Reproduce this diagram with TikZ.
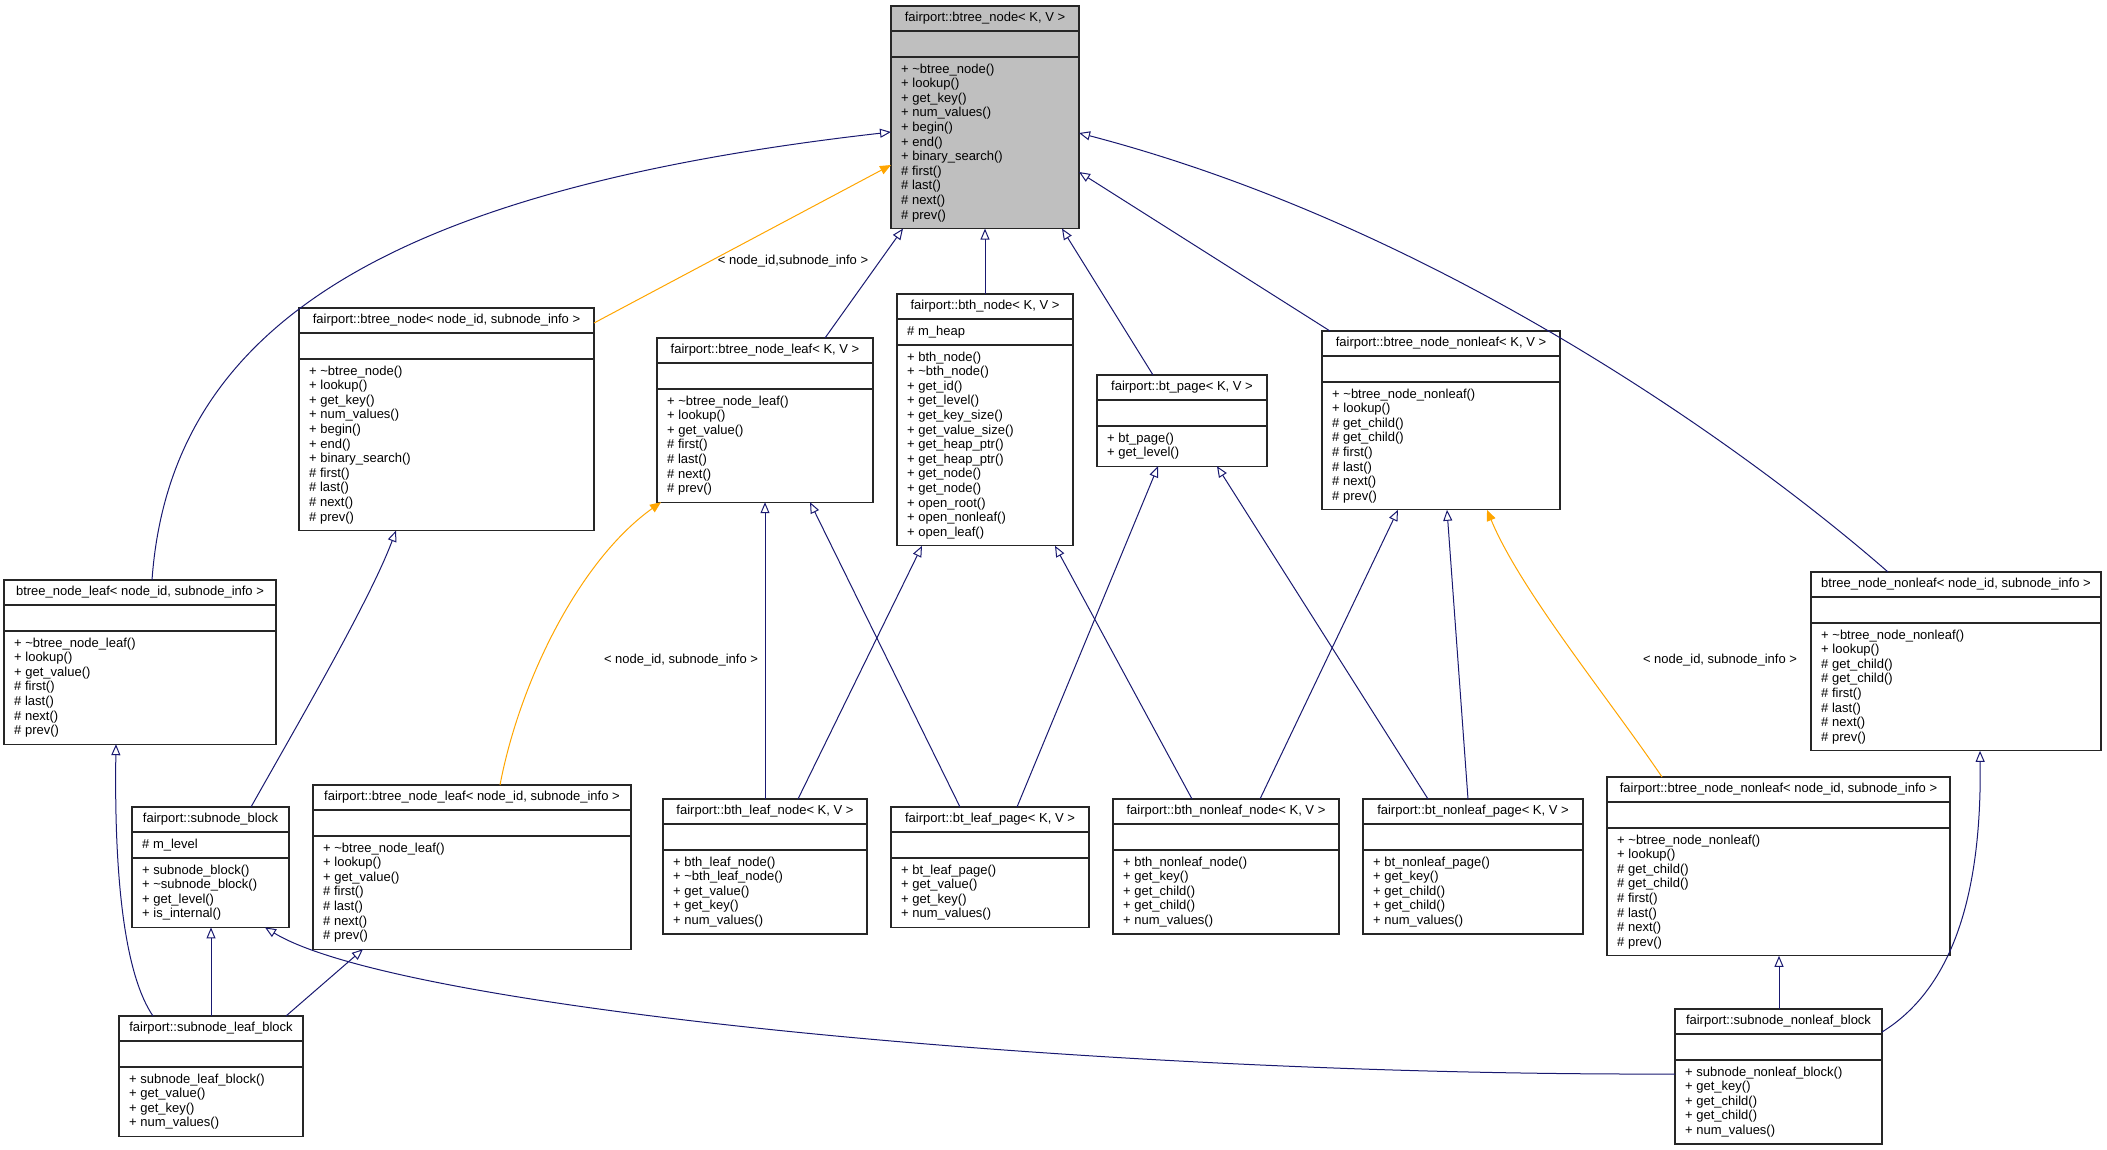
\documentclass[tikz,border=0pt]{standalone}
\usepackage{fontspec}
\setmainfont{Liberation Sans}
\usetikzlibrary{arrows.meta}

\definecolor{edgeblue}{RGB}{25,25,112}
\definecolor{tmplorange}{RGB}{255,165,0}
\definecolor{basegray}{RGB}{191,191,191}

% one doxygen class box: [style] name, x, y, width, title, attribute, rows, methods
\newcommand{\umlclass}[9][]{%
\node[classbox,#1,minimum width=#5pt,minimum height={62pt+14.6pt*#8},anchor=north west] (#2) at (#3,#4) {};
\draw[sepline] ([yshift=-25pt]#2.north west) -- ([yshift=-25pt]#2.north east);
\draw[sepline] ([yshift=-51pt]#2.north west) -- ([yshift=-51pt]#2.north east);
\node[classtext] (#2-title) at ([yshift=-12.5pt]#2.north) {#6};
\node[classtext,anchor=west] (#2-attr) at ([xshift=10pt,yshift=-38pt]#2.north west) {#7};
\foreach \m [count=\i] in {#9}
  \node[classtext,anchor=west] (#2-m\i) at ([xshift=10pt,yshift={-63.8pt-14.6pt*(\i-1)}]#2.north west) {\m};
}

\begin{document}
\begin{tikzpicture}[x=1pt,y=-1pt,
  classbox/.style={draw=black!85,line width=1.2pt,fill=white,inner sep=0pt,outer sep=0pt},
  sepline/.style={draw=black!85,line width=1.2pt},
  classtext/.style={inner sep=0pt,font=\fontsize{13}{14.6}\selectfont,text height=9.5pt,text depth=3pt},
  inh/.style={draw=edgeblue,line width=1pt,-{Triangle[length=11pt,width=9pt,fill=white]}},
  tmpl/.style={draw=tmplorange,line width=1pt,-{Triangle[length=11pt,width=9pt]}}]
\useasboundingbox (0,0) rectangle (2107,1149);

% top row
\umlclass[fill=basegray]{bn}{891}{6}{188}{fairport::btree\_node< K, V >}{}{11}{+ \textasciitilde btree\_node(),+ lookup(),+ get\_key(),+ num\_values(),+ begin(),+ end(),+ binary\_search(),\# first(),\# last(),\# next(),\# prev()}

% second row
\umlclass{bnsub}{299}{308}{295}{fairport::btree\_node< node\_id, subnode\_info >}{}{11}{+ \textasciitilde btree\_node(),+ lookup(),+ get\_key(),+ num\_values(),+ begin(),+ end(),+ binary\_search(),\# first(),\# last(),\# next(),\# prev()}
\umlclass{leaf}{657}{338}{216}{fairport::btree\_node\_leaf< K, V >}{}{7}{+ \textasciitilde btree\_node\_leaf(),+ lookup(),+ get\_value(),\# first(),\# last(),\# next(),\# prev()}
\umlclass{bth}{897}{294}{176}{fairport::bth\_node< K, V >}{\# m\_heap}{13}{+ bth\_node(),+ \textasciitilde bth\_node(),+ get\_id(),+ get\_level(),+ get\_key\_size(),+ get\_value\_size(),+ get\_heap\_ptr(),+ get\_heap\_ptr(),+ get\_node(),+ get\_node(),+ open\_root(),+ open\_nonleaf(),+ open\_leaf()}
\umlclass{btpage}{1097}{375}{170}{fairport::bt\_page< K, V >}{}{2}{+ bt\_page(),+ get\_level()}
\umlclass{nonleaf}{1322}{331}{238}{fairport::btree\_node\_nonleaf< K, V >}{}{8}{+ \textasciitilde btree\_node\_nonleaf(),+ lookup(),\# get\_child(),\# get\_child(),\# first(),\# last(),\# next(),\# prev()}

% third row
\umlclass{leafsub}{4}{580}{272}{btree\_node\_leaf< node\_id, subnode\_info >}{}{7}{+ \textasciitilde btree\_node\_leaf(),+ lookup(),+ get\_value(),\# first(),\# last(),\# next(),\# prev()}
\umlclass{nonleafsub}{1811}{572}{290}{btree\_node\_nonleaf< node\_id, subnode\_info >}{}{8}{+ \textasciitilde btree\_node\_nonleaf(),+ lookup(),\# get\_child(),\# get\_child(),\# first(),\# last(),\# next(),\# prev()}
\umlclass{sblock}{132}{807}{157}{fairport::subnode\_block}{\# m\_level}{4}{+ subnode\_block(),+ \textasciitilde subnode\_block(),+ get\_level(),+ is\_internal()}
\umlclass{fleafsub}{313}{785}{318}{fairport::btree\_node\_leaf< node\_id, subnode\_info >}{}{7}{+ \textasciitilde btree\_node\_leaf(),+ lookup(),+ get\_value(),\# first(),\# last(),\# next(),\# prev()}
\umlclass{bthleaf}{663}{799}{204}{fairport::bth\_leaf\_node< K, V >}{}{5}{+ bth\_leaf\_node(),+ \textasciitilde bth\_leaf\_node(),+ get\_value(),+ get\_key(),+ num\_values()}
\umlclass{btleaf}{891}{807}{198}{fairport::bt\_leaf\_page< K, V >}{}{4}{+ bt\_leaf\_page(),+ get\_value(),+ get\_key(),+ num\_values()}
\umlclass{bthnonleaf}{1113}{799}{226}{fairport::bth\_nonleaf\_node< K, V >}{}{5}{+ bth\_nonleaf\_node(),+ get\_key(),+ get\_child(),+ get\_child(),+ num\_values()}
\umlclass{btnonleaf}{1363}{799}{220}{fairport::bt\_nonleaf\_page< K, V >}{}{5}{+ bt\_nonleaf\_page(),+ get\_key(),+ get\_child(),+ get\_child(),+ num\_values()}
\umlclass{fnonleafsub}{1607}{777}{343}{fairport::btree\_node\_nonleaf< node\_id, subnode\_info >}{}{8}{+ \textasciitilde btree\_node\_nonleaf(),+ lookup(),\# get\_child(),\# get\_child(),\# first(),\# last(),\# next(),\# prev()}

% bottom row
\umlclass{sleaf}{119}{1016}{184}{fairport::subnode\_leaf\_block}{}{4}{+ subnode\_leaf\_block(),+ get\_value(),+ get\_key(),+ num\_values()}
\umlclass{snonleaf}{1675}{1009}{207}{fairport::subnode\_nonleaf\_block}{}{5}{+ subnode\_nonleaf\_block(),+ get\_key(),+ get\_child(),+ get\_child(),+ num\_values()}

% inheritance into btree_node
\draw[inh] ([xshift=148pt]leafsub.north west) .. controls (170,330) and (380,190) .. ([yshift=-126pt]bn.north west);
\draw[tmpl] ([yshift=-15pt]bnsub.north east) -- ([yshift=-159pt]bn.north west);
\draw[inh] ([xshift=168pt]leaf.north west) -- ([xshift=12pt]bn.south west);
\draw[inh] ([xshift=88pt]bth.north west) -- ([xshift=94pt]bn.south west);
\draw[inh] ([xshift=56pt]btpage.north west) -- ([xshift=171pt]bn.south west);
\draw[inh] ([xshift=8pt]nonleaf.north west) -- ([yshift=-166pt]bn.north east);
\draw[inh] ([xshift=77pt]nonleafsub.north west) .. controls (1760,460) and (1450,230) .. ([yshift=-127pt]bn.north east);

% middle level
\draw[inh] ([xshift=119pt]sblock.north west) .. controls (300,720) and (370,600) .. ([xshift=97pt]bnsub.south west);
\draw[tmpl] ([xshift=187pt]fleafsub.north west) .. controls (520,680) and (580,560) .. ([xshift=4pt]leaf.south west);
\draw[inh] ([xshift=102pt]bthleaf.north west) -- ([xshift=108pt]leaf.south west);
\draw[inh] ([xshift=69pt]btleaf.north west) -- ([xshift=153pt]leaf.south west);
\draw[inh] ([xshift=135pt]bthleaf.north west) -- ([xshift=25pt]bth.south west);
\draw[inh] ([xshift=79pt]bthnonleaf.north west) -- ([xshift=158pt]bth.south west);
\draw[inh] ([xshift=126pt]btleaf.north west) -- ([xshift=61pt]btpage.south west);
\draw[inh] ([xshift=65pt]btnonleaf.north west) -- ([xshift=120pt]btpage.south west);
\draw[inh] ([xshift=147pt]bthnonleaf.north west) -- ([xshift=76pt]nonleaf.south west);
\draw[inh] ([xshift=105pt]btnonleaf.north west) -- ([xshift=125pt]nonleaf.south west);
\draw[tmpl] ([xshift=55pt]fnonleafsub.north west) .. controls (1610,700) and (1520,590) .. ([xshift=165pt]nonleaf.south west);

% subnode blocks
\draw[inh] ([xshift=34pt]sleaf.north west) .. controls (125,975) and (114,880) .. ([xshift=112pt]leafsub.south west);
\draw[inh] ([xshift=92pt]sleaf.north west) -- ([xshift=79pt]sblock.south west);
\draw[inh] ([xshift=167pt]sleaf.north west) -- ([xshift=50pt]fleafsub.south west);
\draw[inh] ([yshift=-65pt]snonleaf.north west) .. controls (1100,1076) and (400,1010) .. ([xshift=133pt]sblock.south west);
\draw[inh] ([xshift=104pt]snonleaf.north west) -- ([xshift=172pt]fnonleafsub.south west);
\draw[inh] ([yshift=-23pt]snonleaf.north east) .. controls (1950,990) and (1982,900) .. ([xshift=169pt]nonleafsub.south west);

% template labels
\node[classtext] (targ1) at (793,261) {< node\_id,subnode\_info >};
\node[classtext] (targ2) at (681,660) {< node\_id, subnode\_info >};
\node[classtext] (targ3) at (1720,660) {< node\_id, subnode\_info >};
\end{tikzpicture}
\end{document}
